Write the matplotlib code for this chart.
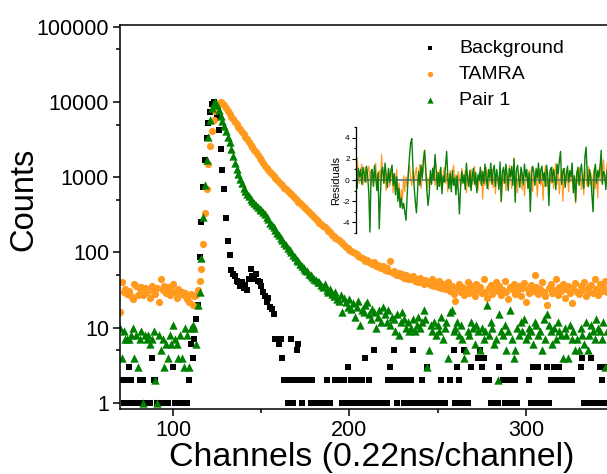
import matplotlib
matplotlib.use('Agg')
import matplotlib.pyplot as plt
import numpy as np
from matplotlib.ticker import FixedLocator, FuncFormatter, MultipleLocator, NullFormatter

plt.rcParams['font.family'] = ['Liberation Sans', 'DejaVu Sans']
plt.rcParams['axes.unicode_minus'] = False

# decay histograms, one value per channel starting at channel 70
first_channel = 70

background = [
    2, 2, 1, 2, 1, 3, 2, 1, 1, 1,
    0, 2, 1, 2, 1, 1, 1, 1, 4, 2,
    2, 1, 1, 1, 1, 1, 1, 1, 0, 0,
    3, 1, 1, 1, 1, 1, 1, 1, 1, 2,
    6, 4, 7, 13, 20, 88, 256, 750, 1700, 3300,
    5300, 7400, 9500, 9900, 8000, 6300, 4300, 2400, 1240, 690,
    290, 143, 92, 58, 52, 48, 42, 40, 36, 40,
    34, 37, 32, 45, 60, 48, 45, 52, 42, 40,
    36, 30, 26, 22, 25, 19, 18, 15, 7, 7,
    6, 7, 4, 2, 2, 1, 2, 7, 1, 2,
    5, 6, 2, 1, 2, 2, 2, 2, 1, 2,
    1, 1, 1, 1, 0, 1, 1, 2, 1, 1,
    0, 0, 2, 2, 0, 2, 1, 2, 1, 3,
    1, 2, 1, 2, 1, 2, 1, 2, 1, 4,
    1, 2, 1, 1, 5, 1, 1, 1, 1, 0,
    1, 1, 2, 3, 2, 5, 2, 1, 2, 0,
    2, 1, 1, 2, 1, 2, 5, 1, 1, 1,
    1, 2, 1, 1, 3, 1, 1, 1, 1, 1,
    1, 0, 2, 1, 1, 0, 0, 2, 0, 5,
    1, 3, 2, 1, 1, 5, 1, 1, 0, 3,
    0, 0, 0, 4, 5, 3, 4, 2, 2, 2,
    1, 1, 1, 1, 1, 3, 0, 2, 1, 1,
    2, 1, 2, 1, 2, 1, 0, 0, 0, 0,
    0, 0, 2, 1, 3, 1, 1, 3, 1, 1,
    1, 1, 3, 1, 2, 2, 3, 2, 0, 3,
    2, 0, 0, 2, 0, 2, 2, 0, 0, 0,
    0, 3, 4, 1, 1, 1, 1, 4, 1, 1,
    1, 1, 3, 2, 1, 3, 1,
]

tamra = [
    16, 40, 30, 33, 28, 31, 26, 24, 38, 36,
    27, 33, 35, 27, 34, 30, 33, 25, 36, 30,
    28, 34, 22, 45, 32, 36, 29, 35, 27, 32,
    38, 30, 25, 33, 28, 30, 27, 29, 24, 22,
    28, 20, 26, 27, 32, 42, 61, 129, 330, 690,
    1490, 2620, 4100, 5740, 7550, 8900, 9700, 10000, 9800, 9100,
    8300, 7600, 7000, 6400, 5900, 5400, 5050, 4700, 4350, 4000,
    3700, 3420, 3180, 2950, 2720, 2500, 2320, 2150, 1990, 1820,
    1680, 1560, 1430, 1330, 1240, 1160, 1090, 1030, 970, 910,
    860, 820, 780, 730, 690, 650, 620, 590, 560, 530,
    500, 475, 450, 430, 405, 385, 365, 345, 325, 310,
    295, 275, 265, 250, 240, 225, 215, 205, 195, 185,
    172, 165, 158, 150, 145, 138, 132, 125, 120, 116,
    108, 105, 100, 98, 94, 90, 87, 85, 82, 78,
    80, 74, 72, 70, 75, 66, 68, 64, 62, 66,
    58, 62, 56, 78, 55, 57, 52, 50, 54, 48,
    51, 46, 50, 44, 47, 45, 48, 42, 44, 40,
    46, 41, 38, 43, 39, 41, 37, 44, 36, 40,
    35, 42, 34, 38, 33, 37, 40, 31, 36, 28,
    23, 34, 38, 30, 35, 27, 33, 41, 29, 36,
    31, 26, 38, 32, 35, 29, 44, 30, 25, 34,
    37, 28, 33, 40, 31, 36, 27, 32, 42, 30,
    24, 35, 33, 38, 28, 31, 36, 26, 34, 39,
    22, 33, 29, 37, 31, 50, 35, 28, 33, 40,
    30, 26, 20, 34, 38, 29, 32, 44, 27, 35,
    31, 38, 25, 33, 36, 29, 21, 34, 39, 30,
    28, 36, 32, 41, 26, 34, 30, 37, 29, 45,
    33, 27, 38, 31, 35, 42, 30,
]

pair1 = [
    10, 4, 9, 7, 7, 7, 8, 10, 4, 8,
    3, 7, 9, 1, 8, 7, 8, 6, 7, 9,
    2, 1, 8, 5, 7, 3, 6, 4, 8, 6,
    11, 7, 6, 4, 8, 4, 3, 10, 8, 3,
    10, 11, 10, 6, 20, 30, 85, 300, 780, 1700,
    3450, 5800, 8200, 9600, 10000, 9000, 7800, 6600, 5600, 4800,
    4100, 3450, 2900, 2350, 1900, 1550, 1300, 1100, 950, 830,
    720, 660, 600, 560, 520, 480, 455, 425, 405, 380,
    365, 340, 320, 295, 275, 250, 232, 215, 198, 182,
    170, 158, 146, 135, 124, 116, 108, 100, 92, 86,
    80, 76, 70, 66, 63, 58, 56, 52, 50, 47,
    45, 43, 40, 41, 37, 35, 38, 32, 30, 33,
    28, 26, 30, 24, 23, 27, 16, 25, 22, 19,
    24, 18, 21, 14, 19, 23, 11, 17, 16, 20,
    22, 15, 13, 18, 16, 10, 14, 17, 12, 19,
    15, 12, 17, 11, 14, 13, 9, 15, 8, 12,
    16, 13, 10, 12, 9, 10, 13, 9, 11, 14,
    10, 12, 17, 13, 3, 5, 11, 9, 12, 8,
    11, 9, 14, 7, 10, 12, 4, 16, 17, 9,
    10, 12, 8, 11, 7, 4, 5, 9, 8, 12,
    10, 6, 11, 9, 5, 10, 7, 9, 20, 8,
    12, 10, 6, 7, 2, 15, 9, 8, 11, 5,
    9, 17, 7, 4, 5, 10, 8, 12, 9, 13,
    7, 8, 10, 9, 6, 12, 11, 8, 9, 5,
    13, 7, 15, 11, 9, 6, 10, 7, 12, 9,
    8, 4, 10, 8, 4, 11, 7, 9, 5, 7,
    5, 10, 8, 6, 12, 5, 8, 11, 9, 7,
    13, 10, 9, 7, 12, 3, 9,
]

# weighted residuals of the fits, from channel 130 on
resid_start = 130

resid_tamra = [
    -2.8, 2.1, 0.6, -0.3, 0.9, 1.5, -0.5, 0.4, 1.2, -0.2,
    0.8, 1.3, 0.2, -0.6, 1.0, -0.4, 0.5, 1.6, -0.8, 0.3,
    0.9, -0.5, 2.4, 0.7, -0.3, 0.6, -1.0, 0.4, 1.1, -0.6,
    0.2, 0.8, -1.2, 0.5, -0.4, 1.0, -1.6, -0.3, -2.5, -0.9,
    -1.8, 0.4, -1.1, 0.3, -0.6, 0.8, 1.4, 0.2, -0.5, 0.9,
    -0.2, 0.6, 1.2, -0.4, 0.7, 1.5, -0.8, 0.3, 1.1, 2.8,
    0.5, -0.9, 0.2, -0.7, 0.6, -0.3, 0.9, 1.3, -0.5, 0.4,
    0.8, -0.6, 1.0, 0.2, -0.8, 0.5, 1.2, -0.3, 0.6, -1.1,
    0.3, 0.9, -0.4, 0.7, 1.4, -0.2, 0.5, -0.9, 0.8, 0.1,
    -0.6, 1.1, 0.4, -0.3, 0.9, -1.2, 0.6, 0.2, -0.7, 1.0,
    -0.4, 0.5, 1.3, -0.6, 0.2, -1.0, 0.7, -0.3, 0.9, -1.8,
    0.4, -0.5, 1.2, 0.3, -0.9, 0.6, -0.2, 1.0, -0.7, 0.5,
    -1.3, 0.8, 0.1, -0.6, 1.1, -2.1, 0.4, -0.3, 0.9, -1.0,
    0.6, -0.4, 1.4, 0.2, -0.8, 0.5, 2.1, -0.5, 0.3, -1.2,
    0.7, -0.3, 1.0, -0.9, 0.4, -1.5, 0.6, 0.2, -0.7, 0.9,
    -0.4, 1.2, -1.1, 0.5, -0.2, 0.8, -1.6, 0.3, 1.1, -0.5,
    0.6, -1.9, 0.4, 1.3, -0.6, 0.2, -1.0, 0.7, -0.3, 1.2,
    -0.8, 0.5, 1.6, -0.4, 0.9, -1.3, 0.3, 1.1, -2.0, 0.6,
    -0.5, 1.0, 0.2, -1.1, 0.7, -0.2, 1.4, -0.7, 0.4, -2.2,
    0.8, -0.3, 1.2, 0.5, -0.9, 0.6, -1.4, 1.0, 0.2, -0.6,
    1.3, -0.4, 0.7, -1.0, 0.3, 1.1, -0.8, 0.5, -1.7, 0.9,
    1.4, -0.2, 0.8, 1.9, 0.3, -0.5, 1.6,
]

resid_pair1 = [
    0.5, -0.8, 1.1, 0.3, 1.0, -0.4, 1.2, 0.6, -0.2, 1.3,
    0.4, -1.2, -4.9, 0.8, 1.0, -0.6, 1.4, 0.2, -1.0, 0.7,
    -4.6, -1.5, 0.9, 1.2, -0.3, 1.6, 0.4, -0.7, 1.1, -0.2,
    0.9, 1.4, -0.5, 0.6, -1.4, 0.3, -2.0, -0.8, -2.6, -1.7,
    -2.7, -2.2, -3.0, -3.8, -1.5, 0.5, 2.2, 3.5, 3.9, 1.2,
    -0.6, -2.0, -3.1, -1.0, 0.8, -0.5, 1.4, 0.2, 1.9, 2.8,
    1.2, -1.0, -2.4, -1.3, 0.9, -0.4, 1.1, 0.0, 2.4, 1.0,
    -0.9, 0.7, -0.6, 1.2, -1.3, 0.4, -0.2, 1.3, 2.7, 0.3,
    -0.8, 0.6, -1.1, 0.9, -0.5, 0.2, -1.4, 0.4, -0.9, -3.2,
    -0.7, 0.8, -0.3, 0.5, -0.9, 1.6, 0.2, -0.6, 0.9, -1.0,
    0.3, 1.1, -0.4, 0.7, -1.2, 0.5, 0.0, 1.2, -0.5, 0.8,
    -0.3, 1.5, 0.4, -0.8, 1.0, 0.2, 1.6, -0.4, 0.9, 1.4,
    -0.6, 1.0, 0.3, -0.9, 1.7, -2.0, 0.8, 1.2, -0.3, 1.5,
    0.5, -1.0, 1.1, 0.3, 1.3, -0.5, 2.0, -2.1, 0.9, 1.4,
    0.2, -0.7, 1.2, 0.6, -0.4, 1.5, 0.3, 1.0, -0.8, 0.7,
    -3.0, 0.4, 1.3, 0.8, -0.5, 1.1, 0.2, 1.6, -0.3, 0.9,
    1.3, 0.0, 0.7, -0.6, 1.4, 0.5, -2.4, 0.9, 1.2, -0.2,
    1.0, 0.3, -0.9, 1.5, 0.6, 1.8, 2.7, -0.4, 0.8, 1.1,
    -0.7, 0.5, 1.3, -0.2, 0.9, 0.3, 1.6, -1.2, 0.4, -2.0,
    0.6, 1.2, -0.5, 0.8, 1.5, 0.1, -0.8, 2.2, 3.1, 0.5,
    -0.6, 1.0, 0.3, -1.4, -3.0, 0.7, 1.5, -0.3, 0.9, 0.2,
    1.2, 2.8, -0.4, 0.8, 0.5, -0.9, 0.9,
]

ORANGE = '#ff9a1f'
GREEN = '#008000'


def counts(values):
    # empty channels can't go on a log axis
    v = np.array(values, dtype=float)
    v[v <= 0] = np.nan
    return v


channels = np.arange(first_channel, first_channel + len(background))

fig = plt.figure(figsize=(6.07, 4.74), dpi=100)
ax = fig.add_axes([0.198, 0.137, 0.802, 0.810])

ax.scatter(channels, counts(background), marker='s', s=17, c='black', linewidths=0, label='Background')
ax.scatter(channels, counts(tamra), marker='o', s=27, c=ORANGE, linewidths=0, label='TAMRA')
ax.scatter(channels, counts(pair1), marker='^', s=36, c=GREEN, linewidths=0, label='Pair 1')

ax.set_yscale('log')
ax.set_xlim(70, 346)
ax.set_ylim(0.83, 1.05e5)

ax.yaxis.set_major_locator(FixedLocator([1, 10, 100, 1000, 10000, 100000]))
ax.yaxis.set_major_formatter(FuncFormatter(lambda v, p: '%d' % round(v)))
ax.yaxis.set_minor_locator(FixedLocator([5, 50, 500, 5000, 50000]))
ax.yaxis.set_minor_formatter(NullFormatter())
ax.xaxis.set_major_locator(FixedLocator([100, 200, 300]))
ax.xaxis.set_minor_locator(FixedLocator([150, 250]))

ax.tick_params(which='major', direction='out', length=5, width=1.1, labelsize=15.5, pad=3)
ax.tick_params(which='minor', direction='out', length=3, width=1.1)
for side in ['left', 'bottom', 'top']:
    ax.spines[side].set_linewidth(1.1)
ax.spines['right'].set_visible(False)

ax.set_xlabel('Channels (0.22ns/channel)', fontsize=24.4)
ax.xaxis.set_label_coords(0.516, -0.086)
ax.set_ylabel('Counts', fontsize=23.5)
ax.yaxis.set_label_coords(-0.165, 0.545)

ax.legend(loc='upper left', bbox_to_anchor=(0.60, 0.982), frameon=False, fontsize=14,
          handlelength=1.0, handletextpad=1.0, labelspacing=0.42, borderaxespad=0,
          markerscale=0.75, scatterpoints=1)

# residuals inset
ax_in = fig.add_axes([0.5865, 0.5084, 0.4135, 0.2236])
ax_in.patch.set_visible(False)
res_x = np.arange(resid_start, resid_start + len(resid_pair1))
ax_in.plot(res_x, resid_tamra, color=ORANGE, lw=0.9)
ax_in.axhline(0, color='#7a7a7a', lw=1.3)
ax_in.plot(res_x, resid_pair1, color='#0a7f0a', lw=1.0)
ax_in.set_xlim(res_x[0], res_x[-1])
ax_in.set_ylim(-5, 5)
for side in ['right', 'top', 'bottom']:
    ax_in.spines[side].set_visible(False)
ax_in.spines['left'].set_linewidth(0.9)
ax_in.set_xticks([])
ax_in.yaxis.set_major_locator(MultipleLocator(2))
ax_in.yaxis.set_minor_locator(MultipleLocator(1))
ax_in.tick_params(axis='y', which='major', direction='out', length=3, width=0.8, labelsize=6, pad=1.5)
ax_in.tick_params(axis='y', which='minor', direction='out', length=1.8, width=0.8)
ax_in.set_ylabel('Residuals', fontsize=8, labelpad=1)

fig.savefig('out.png', dpi=100)
